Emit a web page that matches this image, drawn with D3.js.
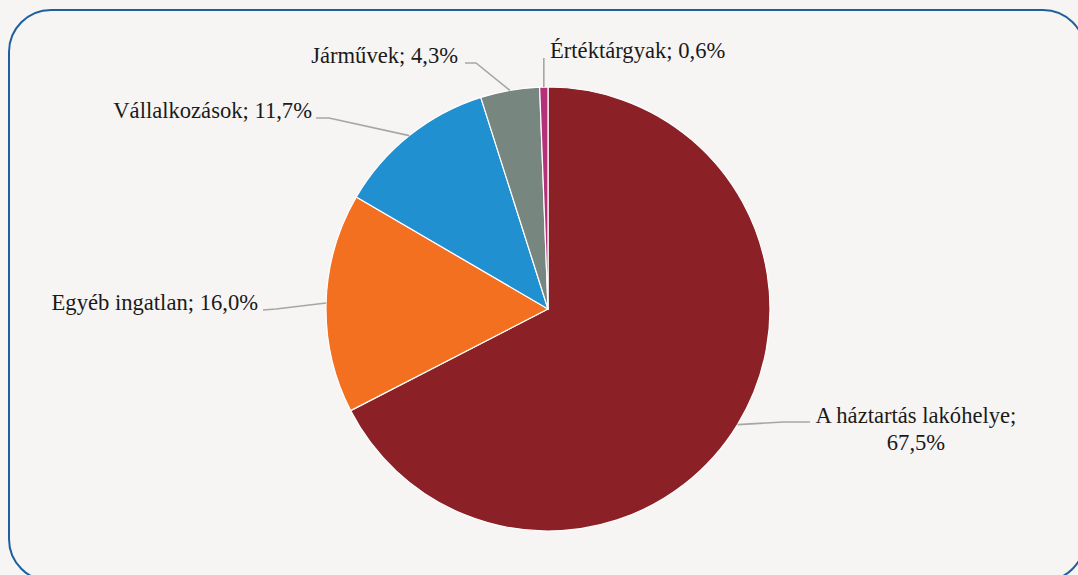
<!DOCTYPE html>
<html>
<head>
<meta charset="utf-8">
<script src="https://cdn.jsdelivr.net/npm/d3@7"></script>
<style>
  html, body { margin: 0; padding: 0; background: #f7f5f3; overflow: hidden; }
  svg { display: block; }
  .label { font-family: "Liberation Serif", "DejaVu Serif", serif; font-size: 22.6px; fill: #1a1a1a; }
</style>
</head>
<body>
<svg id="chart"></svg>
<script>
// adatok
const categories = ["A háztartás lakóhelye", "Egyéb ingatlan", "Vállalkozások", "Járművek", "Értéktárgyak"];
const values = [67.5, 16.0, 11.7, 4.3, 0.6];
const colors = ["#8b2126", "#f37021", "#2190d0", "#77877f", "#b2317a"];

const width = 1078, height = 575;
const cx = 548, cy = 309, radius = 222;

// címkék helye (a középponthoz képest): töréspont, vonal vége, szöveg
const labelLayout = [
  { elbow: [235, 113], end: [262, 113], text: [368, 114], anchor: "middle", lines: 2 },
  { elbow: [-272, 0], end: [-285, 1], text: [-290, 1], anchor: "end", lines: 1 },
  { elbow: [-219, -191], end: [-232, -191], text: [-236, -191], anchor: "end", lines: 1 },
  { elbow: [-72, -246], end: [-83, -246], text: [-90, -246], anchor: "end", lines: 1 },
  { elbow: [-3, -251], end: [-3, -251], text: [2, -251], anchor: "start", lines: 1 }
];

const fmt = v => d3.format(".1f")(v).replace(".", ",") + "%";

const svg = d3.select("#chart")
  .attr("width", width)
  .attr("height", height);

// keret
svg.append("rect")
  .attr("x", 9).attr("y", 10)
  .attr("width", 1076).attr("height", 571)
  .attr("rx", 42).attr("ry", 42)
  .attr("fill", "#f7f5f3")
  .attr("stroke", "#1f5f9f")
  .attr("stroke-width", 2);

const g = svg.append("g").attr("transform", `translate(${cx},${cy})`);

const pie = d3.pie().sort(null).value(d => d);
const arcs = pie(values);

const arc = d3.arc().innerRadius(0).outerRadius(radius);
const edge = d3.arc().innerRadius(radius).outerRadius(radius);

g.selectAll("path.slice")
  .data(arcs)
  .enter()
  .append("path")
  .attr("class", "slice")
  .attr("d", arc)
  .attr("fill", (d, i) => colors[i])
  .attr("stroke", "#ffffff")
  .attr("stroke-width", 1.2);

// vezetővonalak
g.selectAll("polyline.leader")
  .data(arcs)
  .enter()
  .append("polyline")
  .attr("class", "leader")
  .attr("points", (d, i) => {
    const p = edge.centroid(d);
    const l = labelLayout[i];
    if (i === 4) return [[p[0], p[1]], [p[0], l.end[1]]].map(q => q.join(",")).join(" ");
    return [p, l.elbow, l.end].map(q => q.join(",")).join(" ");
  })
  .attr("fill", "none")
  .attr("stroke", "#a6a6a6")
  .attr("stroke-width", 1.6);

// címkék
g.selectAll("text.label")
  .data(arcs)
  .enter()
  .append("text")
  .attr("class", "label")
  .attr("text-anchor", (d, i) => labelLayout[i].anchor)
  .each(function (d, i) {
    const l = labelLayout[i];
    const t = d3.select(this);
    const txt = categories[i] + ";";
    if (l.lines === 2) {
      t.append("tspan").attr("x", l.text[0]).attr("y", l.text[1]).text(txt);
      t.append("tspan").attr("x", l.text[0]).attr("y", l.text[1] + 27).text(fmt(values[i]));
    } else {
      t.attr("x", l.text[0]).attr("y", l.text[1]).text(txt + " " + fmt(values[i]));
    }
  });
</script>
</body>
</html>
